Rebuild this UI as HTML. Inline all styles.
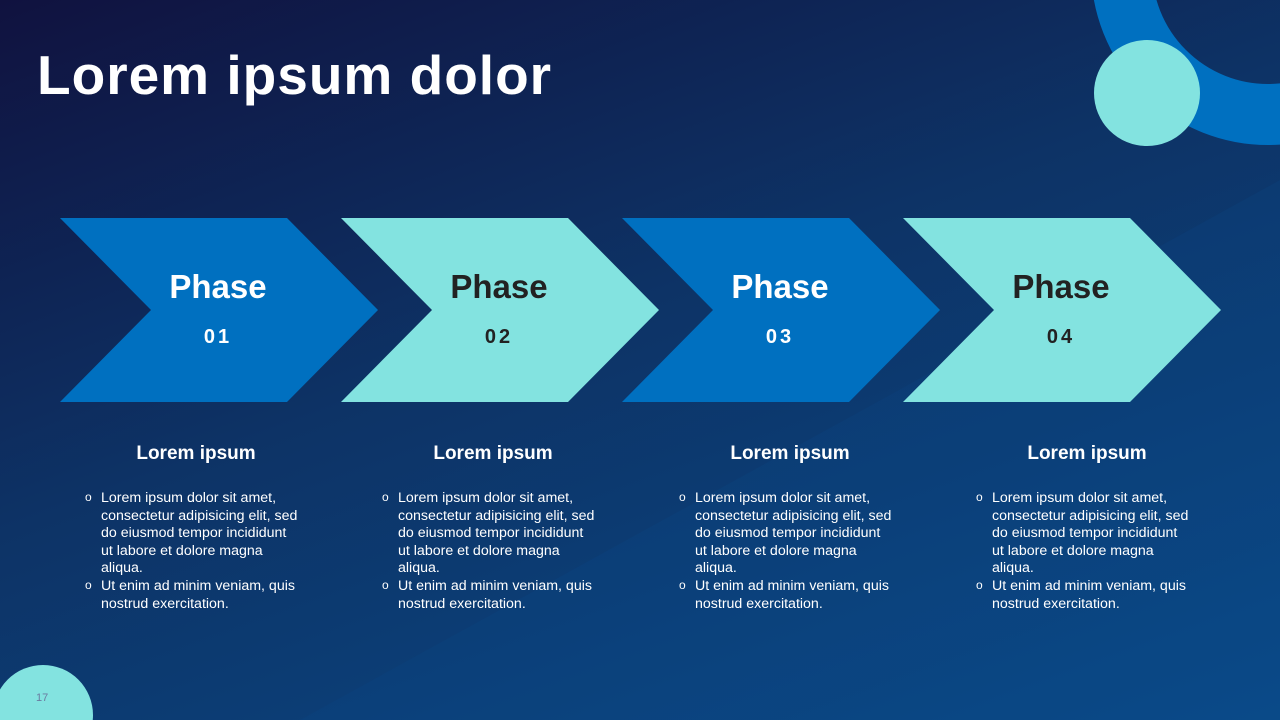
<!DOCTYPE html>
<html><head><meta charset="utf-8"><style>
html,body{margin:0;width:1280px;height:720px;overflow:hidden;font-family:"Liberation Sans",sans-serif}
.bg{position:absolute;inset:0;background:linear-gradient(160deg,#10123f 0%,#0d3366 45%,#0b4a88 100%)}
svg{position:absolute;left:0;top:0;display:block;overflow:hidden}
h1{position:absolute;left:37px;top:42px;margin:0;font-size:55px;font-weight:bold;color:#fff;letter-spacing:1px;line-height:66px}
.col{position:absolute;top:443px;width:240px;color:#fff;max-height:200px;overflow:hidden}
.col h3{margin:0;text-align:center;font-size:19px;font-weight:bold;line-height:22px}
.col ul{margin:25px 0 0 9px;padding-left:16px;width:198px;list-style:none;font-size:14.2px;line-height:17.6px}
.col li{position:relative}
.col li:before{content:"o";position:absolute;left:-16px;top:-1px;font-size:12px}
.pn{position:absolute;left:36px;top:692px;font-size:11px;color:#6a7ba0}
</style></head><body>
<div class="bg"></div>
<svg width="1280" height="720" viewBox="0 0 1280 720">
<polygon points="300,720 1280,180 1280,720" fill="#0b4b8c" opacity="0.2"/>
<circle cx="1268" cy="-32" r="146.5" fill="none" stroke="#0070c0" stroke-width="61"/>
<circle cx="1147" cy="93" r="53" fill="#83e3e0"/>
<circle cx="43" cy="715" r="50" fill="#83e3e0"/>
<polygon points="60,218 287,218 378,310 287,402 60,402 151,310" fill="#0070c0"/>
<polygon points="341,218 568,218 659,310 568,402 341,402 432,310" fill="#83e3e0"/>
<polygon points="622,218 849,218 940,310 849,402 622,402 713,310" fill="#0070c0"/>
<polygon points="903,218 1130,218 1221,310 1130,402 903,402 994,310" fill="#83e3e0"/>
<g font-family="Liberation Sans,sans-serif" font-weight="bold" text-anchor="middle">
<text x="218" y="298" font-size="33" fill="#fff">Phase</text><text x="218" y="343" font-size="20" fill="#fff" letter-spacing="3">01</text>
<text x="499" y="298" font-size="33" fill="#222">Phase</text><text x="499" y="343" font-size="20" fill="#222" letter-spacing="3">02</text>
<text x="780" y="298" font-size="33" fill="#fff">Phase</text><text x="780" y="343" font-size="20" fill="#fff" letter-spacing="3">03</text>
<text x="1061" y="298" font-size="33" fill="#222">Phase</text><text x="1061" y="343" font-size="20" fill="#222" letter-spacing="3">04</text>
</g>
</svg>
<h1>Lorem ipsum dolor</h1>
<div class="col" style="left:76px"><h3>Lorem ipsum</h3><ul><li>Lorem ipsum dolor sit amet, consectetur adipisicing elit, sed do eiusmod tempor incididunt ut labore et dolore magna aliqua.</li><li>Ut enim ad minim veniam, quis nostrud exercitation.</li></ul></div>
<div class="col" style="left:373px"><h3>Lorem ipsum</h3><ul><li>Lorem ipsum dolor sit amet, consectetur adipisicing elit, sed do eiusmod tempor incididunt ut labore et dolore magna aliqua.</li><li>Ut enim ad minim veniam, quis nostrud exercitation.</li></ul></div>
<div class="col" style="left:670px"><h3>Lorem ipsum</h3><ul><li>Lorem ipsum dolor sit amet, consectetur adipisicing elit, sed do eiusmod tempor incididunt ut labore et dolore magna aliqua.</li><li>Ut enim ad minim veniam, quis nostrud exercitation.</li></ul></div>
<div class="col" style="left:967px"><h3>Lorem ipsum</h3><ul><li>Lorem ipsum dolor sit amet, consectetur adipisicing elit, sed do eiusmod tempor incididunt ut labore et dolore magna aliqua.</li><li>Ut enim ad minim veniam, quis nostrud exercitation.</li></ul></div>
<div class="pn">17</div>
</body></html>
